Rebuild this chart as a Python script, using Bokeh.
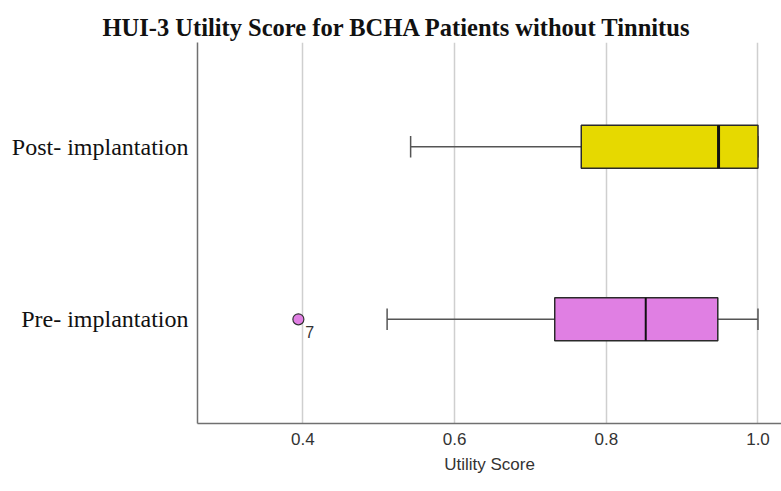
from bokeh.plotting import figure
from bokeh.models import ColumnDataSource, FactorRange
from bokeh.core.properties import value
from bokeh.embed import file_html
from bokeh.resources import INLINE

# Box-plot summaries of HUI-3 utility scores, one row per group
groups = ["Pre- implantation", "Post- implantation"]
whisker_low = [0.511, 0.542]
q1 = [0.732, 0.767]
median = [0.852, 0.948]
q3 = [0.947, 1.000]
whisker_high = [1.000, 1.000]
box_colors = ["#e07fe3", "#e6d900"]
median_widths = [2, 3]

# Outlying cases
outlier_groups = ["Pre- implantation"]
outlier_values = [0.394]
outlier_labels = ["7"]
outlier_colors = ["#e07fe3"]

x_ticks = [0.4, 0.6, 0.8, 1.0]

BOX_H = 0.249
CAP_H = 0.125

p = figure(
    width=781, height=491,
    y_range=FactorRange(factors=groups, range_padding=0.1035),
    x_range=(0.261, 1.031),
    output_backend="svg", toolbar_location=None,
    min_border_left=197, min_border_right=0,
    min_border_top=42, min_border_bottom=68,
    title="HUI-3 Utility Score for BCHA Patients without Tinnitus",
)

p.title.text_font = "Liberation Serif"
p.title.text_font_size = "24.5px"
p.title.text_font_style = "bold"
p.title.text_color = "#111111"
p.title.align = "left"
p.title.offset = -95
p.title.standoff = 4

p.outline_line_color = None
p.background_fill_color = "white"
p.border_fill_color = "white"

# grid and axes
p.ygrid.grid_line_color = None
p.xgrid.grid_line_color = "#cfcfcf"
p.xgrid.grid_line_width = 1.5
p.xgrid.ticker = x_ticks
p.xaxis.ticker = x_ticks
p.xaxis.major_label_overrides = {t: f"{t:.1f}" for t in x_ticks}

for ax in (p.xaxis, p.yaxis):
    ax.axis_line_color = "#707070"
    ax.axis_line_width = 1.5
    ax.major_tick_line_color = None
    ax.minor_tick_line_color = None

p.xaxis.major_label_text_font = "Liberation Sans"
p.xaxis.major_label_text_font_size = "17px"
p.xaxis.major_label_text_color = "#333333"
p.xaxis.major_label_standoff = 3
p.xaxis.axis_label = "Utility Score"
p.xaxis.axis_label_text_font = "Liberation Sans"
p.xaxis.axis_label_text_font_size = "17px"
p.xaxis.axis_label_text_font_style = "normal"
p.xaxis.axis_label_text_color = "#333333"
p.xaxis.axis_label_standoff = 7

p.yaxis.major_label_text_font = "Liberation Serif"
p.yaxis.major_label_text_font_size = "24px"
p.yaxis.major_label_text_color = "#111111"
p.yaxis.major_label_standoff = 3

src = ColumnDataSource(dict(
    group=groups, wlo=whisker_low, q1=q1, med=median, q3=q3, whi=whisker_high,
    color=box_colors, mw=median_widths,
    cap_lo=[(g, -CAP_H / 2) for g in groups],
    cap_hi=[(g, CAP_H / 2) for g in groups],
    box_lo=[(g, -BOX_H / 2) for g in groups],
    box_hi=[(g, BOX_H / 2) for g in groups],
))

# whiskers
p.segment(x0="wlo", y0="group", x1="q1", y1="group", source=src,
          line_color="#555555", line_width=1.5)
p.segment(x0="q3", y0="group", x1="whi", y1="group", source=src,
          line_color="#555555", line_width=1.5)
# whisker caps
p.segment(x0="wlo", y0="cap_lo", x1="wlo", y1="cap_hi", source=src,
          line_color="#555555", line_width=1.5)
p.segment(x0="whi", y0="cap_lo", x1="whi", y1="cap_hi", source=src,
          line_color="#555555", line_width=1.5)
# boxes
p.hbar(y="group", left="q1", right="q3", height=BOX_H, source=src,
       fill_color="color", line_color="#2a2a2a", line_width=1.5)
# medians
p.segment(x0="med", y0="box_lo", x1="med", y1="box_hi", source=src,
          line_color="#111111", line_width="mw")

# outliers with case labels
osrc = ColumnDataSource(dict(x=outlier_values, y=outlier_groups,
                             label=outlier_labels, color=outlier_colors))
p.scatter(x="x", y="y", source=osrc, size=11, fill_color="color",
          line_color="#333333", line_width=1.2)
p.text(x="x", y="y", text="label", source=osrc, x_offset=7, y_offset=13,
       text_font=value("Liberation Sans"), text_font_size="16px",
       text_color="#333333", text_align="left", text_baseline="middle")

open("out.html", "w").write(file_html(p, INLINE))
